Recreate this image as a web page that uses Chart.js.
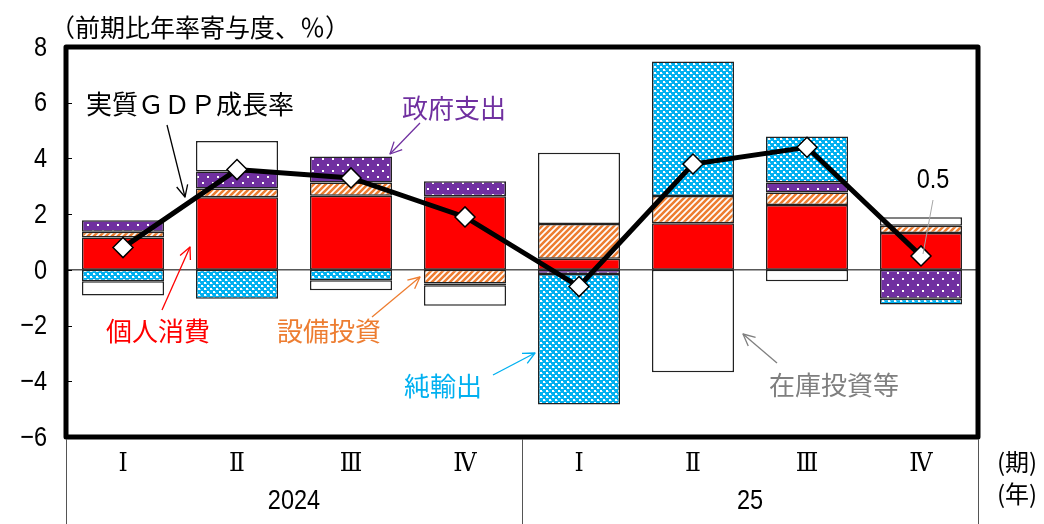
<!DOCTYPE html>
<html>
<head>
<meta charset="utf-8">
<script src="https://cdn.jsdelivr.net/npm/chart.js@4"></script>
<style>
  html, body { margin: 0; padding: 0; background: #fff; }
  #wrap { width: 1044px; height: 524px; }
</style>
</head>
<body>
<div id="wrap"><canvas id="grafik" width="1044" height="524"></canvas></div>
<script>
// quarters and years
const quarters = ['Ⅰ', 'Ⅱ', 'Ⅲ', 'Ⅳ', 'Ⅰ', 'Ⅱ', 'Ⅲ', 'Ⅳ'];
const years = ['2024', '25'];

// contributions (% points, annualised q/q)
const kojinShohi = [1.16, 2.61, 2.66, 2.64, 0.40, 1.67, 2.33, 1.32];
const setsubiToshi = [0.21, 0.31, 0.48, -0.49, 1.25, 0.98, 0.45, 0.26];
const seifuShishutsu = [0.41, 0.61, 0.93, 0.54, -0.15, 0, 0.36, -1.04];
const junYushutsu = [-0.41, -1.04, -0.37, -0.06, -4.68, 4.83, 1.65, -0.20];
const zaiko = [-0.51, 1.10, -0.36, -0.74, 2.55, -3.68, -0.41, 0.31];
const gdp = [0.8, 3.6, 3.3, 1.9, -0.6, 3.8, 4.4, 0.5];

const yMin = -6, yMax = 8, yStep = 2;

const NUM = "'Liberation Sans', sans-serif";
const ROMAN = "'DejaVu Serif Condensed', 'DejaVu Serif', serif";
const JP = "'Noto Sans CJK JP', sans-serif";

const RED = '#FF0000', ORANGE = '#ED7D31', PURPLE = '#7030A0', CYAN = '#00B0F0', GRAY = '#7F7F7F';

function tile(w, h, draw) {
    const c = document.createElement('canvas');
    c.width = w; c.height = h;
    const g = c.getContext('2d');
    draw(g);
    return document.getElementById('grafik').getContext('2d').createPattern(c, 'repeat');
}

const hatchOrange = tile(6, 6, g => {
    g.fillStyle = '#fff'; g.fillRect(0, 0, 6, 6);
    g.strokeStyle = ORANGE; g.lineWidth = 2.6;
    g.beginPath();
    g.moveTo(-1, 7); g.lineTo(7, -1);
    g.moveTo(-4, 4); g.lineTo(4, -4);
    g.moveTo(2, 10); g.lineTo(10, 2);
    g.stroke();
});

const dotsPurple = tile(10, 12, g => {
    g.fillStyle = PURPLE; g.fillRect(0, 0, 10, 12);
    g.fillStyle = '#fff';
    g.fillRect(2, 2, 2, 2);
    g.fillRect(7, 8, 2, 2);
});

const checkCyan = tile(6, 6, g => {
    g.fillStyle = CYAN; g.fillRect(0, 0, 6, 6);
    g.fillStyle = '#fff';
    g.fillRect(0, 0, 2, 2);
    g.fillRect(3, 3, 2, 2);
    g.fillStyle = '#7fd8f8';
    g.fillRect(2, 1, 1, 1);
    g.fillRect(5, 4, 1, 1);
});

function barSet(label, data, fill) {
    return {
        type: 'bar', label: label, data: data, backgroundColor: fill,
        borderColor: '#222', borderWidth: 1.5, borderSkipped: false,
        stack: 'bars', order: 1,
        barPercentage: 0.72, categoryPercentage: 1
    };
}

function arrow(ctx, x1, y1, x2, y2, color) {
    ctx.save();
    ctx.strokeStyle = color; ctx.lineWidth = 1.3;
    ctx.beginPath(); ctx.moveTo(x1, y1); ctx.lineTo(x2, y2); ctx.stroke();
    const a = Math.atan2(y2 - y1, x2 - x1), L = 13, s = 0.45;
    ctx.beginPath();
    ctx.moveTo(x2 - L * Math.cos(a - s), y2 - L * Math.sin(a - s));
    ctx.lineTo(x2, y2);
    ctx.lineTo(x2 - L * Math.cos(a + s), y2 - L * Math.sin(a + s));
    ctx.stroke();
    ctx.restore();
}

function text(ctx, str, x, y, color, font, align) {
    ctx.fillStyle = color; ctx.font = font;
    ctx.textAlign = align || 'left'; ctx.textBaseline = 'middle';
    ctx.fillText(str, x, y);
}

// condensed numbers, like the narrow gothic of the original
function num(ctx, str, x, y, align, sx) {
    ctx.save();
    ctx.translate(x, y);
    ctx.scale(sx || 0.84, 1);
    text(ctx, str, 0, 0, '#000', '28px ' + NUM, align);
    ctx.restore();
}

const decor = {
    id: 'decor',
    beforeDatasetsDraw(chart) {
        const { ctx, chartArea: a, scales: { y } } = chart;
        const y0 = y.getPixelForValue(0);
        ctx.save();
        ctx.strokeStyle = '#000'; ctx.lineWidth = 1;
        ctx.beginPath(); ctx.moveTo(a.left, y0); ctx.lineTo(a.right, y0); ctx.stroke();
        ctx.restore();
    },
    afterDraw(chart) {
        const { ctx, chartArea: a, scales: { x, y } } = chart;
        ctx.save();
        // y tick labels and tick marks inside the frame
        ctx.strokeStyle = '#000'; ctx.lineWidth = 1;
        y.ticks.forEach(t => {
            const py = y.getPixelForValue(t.value);
            num(ctx, String(t.value).replace('-', '−'), 47, py + 1, 'right');
            if (t.value > yMin && t.value < yMax) {
                const ry = Math.round(py) + 0.5;
                ctx.beginPath(); ctx.moveTo(a.left, ry); ctx.lineTo(a.left + 6, ry); ctx.stroke();
            }
        });
        // heavy frame
        ctx.lineWidth = 5; ctx.lineJoin = 'round';
        ctx.strokeRect(a.left, a.top, a.right - a.left, a.bottom - a.top);

        // category axis below
        const mid = (a.left + a.right) / 2;
        ctx.strokeStyle = '#555'; ctx.lineWidth = 1;
        [a.left, mid, a.right].forEach(px => {
            ctx.beginPath(); ctx.moveTo(Math.round(px) + 0.5, a.bottom + 2); ctx.lineTo(Math.round(px) + 0.5, 524); ctx.stroke();
        });
        quarters.forEach((q, i) => text(ctx, q, x.getPixelForValue(i), 464, '#000', '26px ' + ROMAN, 'center'));
        num(ctx, years[0], (a.left + mid) / 2, 501, 'center');
        num(ctx, years[1], (mid + a.right) / 2, 501, 'center');
        text(ctx, '(期)', 1017, 462, '#000', '24px ' + JP, 'center');
        text(ctx, '(年)', 1017, 494, '#000', '24px ' + JP, 'center');

        // unit
        text(ctx, '（前期比年率寄与度、％）', 50, 27, '#000', '25px ' + JP);

        // annotations
        text(ctx, '実質ＧＤＰ成長率', 86, 104, '#000', '26px ' + JP);
        arrow(ctx, 167, 125, 185, 197, '#000');
        text(ctx, '政府支出', 402, 108, PURPLE, '26px ' + JP);
        arrow(ctx, 420, 123, 390, 154, PURPLE);
        text(ctx, '個人消費', 106, 331, RED, '26px ' + JP);
        arrow(ctx, 162, 310, 190, 247, RED);
        text(ctx, '設備投資', 277, 331, ORANGE, '26px ' + JP);
        arrow(ctx, 372, 317, 420, 277, ORANGE);
        text(ctx, '純輸出', 404, 386, CYAN, '26px ' + JP);
        arrow(ctx, 493, 375, 535, 353, CYAN);
        text(ctx, '在庫投資等', 769, 385, GRAY, '26px ' + JP);
        arrow(ctx, 777, 363, 743, 334, GRAY);

        // last value label
        const last = gdp.length - 1;
        const lx = x.getPixelForValue(last), ly = y.getPixelForValue(gdp[last]);
        num(ctx, gdp[last].toFixed(1), 933, 180, 'center');
        ctx.strokeStyle = '#A6A6A6'; ctx.lineWidth = 1;
        ctx.beginPath(); ctx.moveTo(933, 200); ctx.lineTo(lx + 2, ly - 2); ctx.stroke();
        ctx.restore();
    }
};

new Chart(document.getElementById('grafik').getContext('2d'), {
    type: 'bar',
    data: {
        labels: quarters,
        datasets: [
            {
                type: 'line', label: '実質ＧＤＰ成長率', data: gdp,
                borderColor: '#000', borderWidth: 5,
                pointStyle: 'rectRot', pointRadius: 10,
                pointBackgroundColor: '#fff', pointBorderColor: '#000', pointBorderWidth: 1.5,
                stack: 'gdp', order: 0
            },
            barSet('個人消費', kojinShohi, RED),
            barSet('設備投資', setsubiToshi, hatchOrange),
            barSet('政府支出', seifuShishutsu, dotsPurple),
            barSet('純輸出', junYushutsu, checkCyan),
            barSet('在庫投資等', zaiko, '#fff')
        ]
    },
    options: {
        responsive: false,
        animation: false,
        layout: { padding: { left: 0, top: 47, right: 66, bottom: 0 } },
        plugins: { legend: { display: false }, tooltip: { enabled: false } },
        scales: {
            x: {
                stacked: true,
                grid: { display: false, drawTicks: false },
                border: { display: false },
                ticks: { display: false },
                afterFit(s) { s.height = 87; }
            },
            y: {
                stacked: true, min: yMin, max: yMax,
                grid: { display: false, drawTicks: false },
                border: { display: false },
                ticks: { stepSize: yStep, display: false },
                afterFit(s) { s.width = 66; }
            }
        }
    },
    plugins: [decor]
});
</script>
</body>
</html>
